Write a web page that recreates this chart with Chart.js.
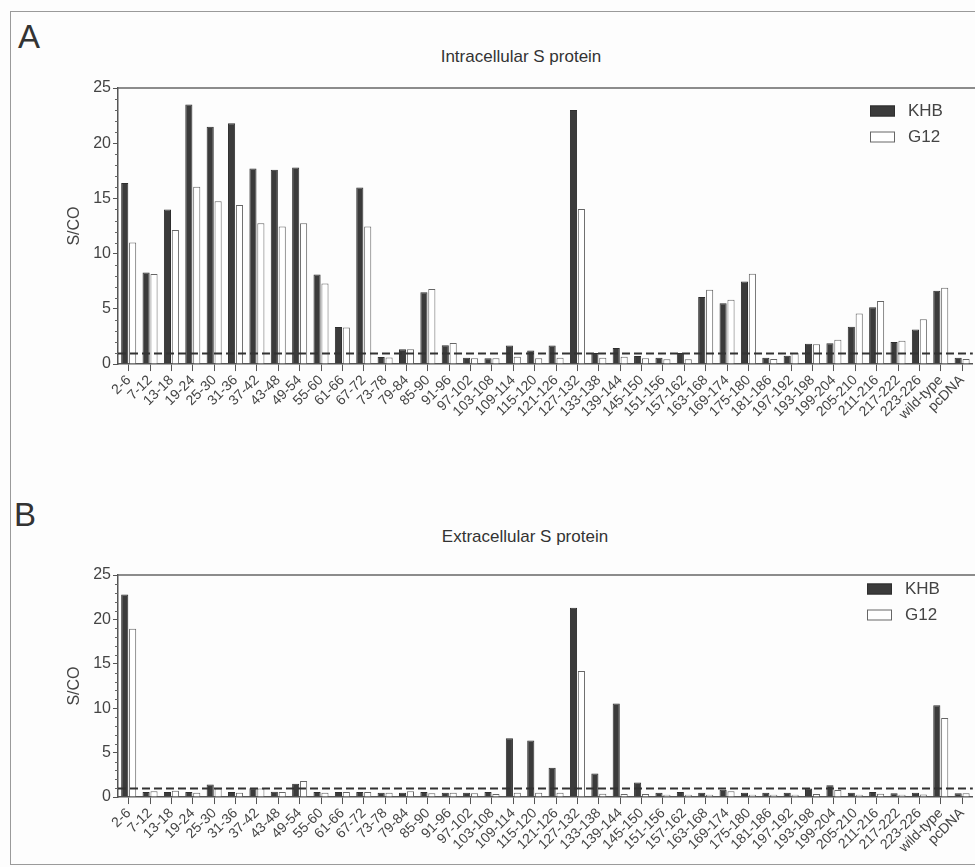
<!DOCTYPE html>
<html>
<head>
<meta charset="utf-8">
<title>S protein S/CO</title>
<script src="https://cdn.jsdelivr.net/npm/chart.js@4/dist/chart.umd.min.js"></script>
<style>
  html, body { margin: 0; padding: 0; background: #fdfdfd; }
  body { width: 975px; height: 867px; position: relative; overflow: hidden; font-family: "Liberation Sans", Arial, sans-serif; color: #3a3a3a; }
  .frame { position: absolute; left: 10px; top: 11px; width: 1000px; height: 854px; border: 1px solid #9a9a9a; box-sizing: border-box; }
  .panel { position: absolute; font-size: 33px; line-height: 1; color: #333; }
  .title { position: absolute; font-size: 17px; line-height: 1; transform: translateX(-50%); white-space: nowrap; color: #333; }
  canvas { position: absolute; left: 0; }
</style>
</head>
<body>
<div class="frame"></div>
<div class="panel" style="left:18px; top:20px;">A</div>
<div class="title" style="left:521px; top:48px;">Intracellular S protein</div>
<div class="panel" style="left:14px; top:498px;">B</div>
<div class="title" style="left:525px; top:528px;">Extracellular S protein</div>
<canvas id="chartA" width="975" height="470" style="top:0px"></canvas>
<canvas id="chartB" width="975" height="397" style="top:470px"></canvas>
<script>
const labels = ["2-6", "7-12", "13-18", "19-24", "25-30", "31-36", "37-42", "43-48", "49-54", "55-60",
    "61-66", "67-72", "73-78", "79-84", "85-90", "91-96", "97-102", "103-108", "109-114", "115-120",
    "121-126", "127-132", "133-138", "139-144", "145-150", "151-156", "157-162", "163-168", "169-174", "175-180",
    "181-186", "197-192", "193-198", "199-204", "205-210", "211-216", "217-222", "223-226", "wild-type", "pcDNA"];

// intracellular S/CO
const intraKHB = [16.4, 8.3, 14.0, 23.5, 21.5, 21.8, 17.7, 17.6, 17.8, 8.1,
    3.35, 16.0, 0.65, 1.35, 6.5, 1.7, 0.58, 0.52, 1.68, 1.22,
    1.68, 23.0, 1.0, 1.46, 0.73, 0.58, 1.0, 6.07, 5.5, 7.47,
    0.58, 0.76, 1.83, 1.89, 3.38, 5.15, 2.0, 3.14, 6.65, 0.58];
const intraG12 = [11.0, 8.15, 12.15, 16.05, 14.75, 14.4, 12.75, 12.45, 12.75, 7.3,
    3.3, 12.45, 0.6, 1.35, 6.8, 1.9, 0.52, 0.52, 0.67, 0.52,
    0.58, 14.05, 0.58, 0.67, 0.52, 0.43, 0.43, 6.74, 5.82, 8.17,
    0.46, 1.0, 1.8, 2.2, 4.57, 5.7, 2.1, 4.05, 6.92, 0.46];

// extracellular S/CO
const extraKHB = [22.8, 0.57, 0.57, 0.57, 1.4, 0.57, 0.98, 0.6, 1.5, 0.57,
    0.57, 0.57, 0.49, 0.49, 0.57, 0.49, 0.49, 0.57, 6.63, 6.36,
    3.3, 21.3, 2.65, 10.53, 1.63, 0.49, 0.57, 0.49, 0.83, 0.49,
    0.49, 0.49, 0.95, 1.33, 0.49, 0.57, 0.42, 0.49, 10.34, 0.42];
const extraG12 = [18.95, 0.64, 0.72, 0.49, 0.95, 0.49, 0.95, 0.57, 1.82, 0.49,
    0.57, 0.57, 0.49, 0.64, 0.42, 0.49, 0.42, 0.34, 0.49, 0.49,
    0.49, 14.2, 0.38, 0.34, 0.34, 0.27, 0.27, 0.27, 0.64, 0.27,
    0.27, 0.27, 0.34, 0.8, 0.27, 0.38, 0.27, 0.3, 8.9, 0.42];

const cutoff = 1;
const yMax = 25;

const FONT = "'Liberation Sans', Arial, sans-serif";
const ink = '#444';

// dashed cut-off line, top border, minor y ticks and the legend box
const decorations = {
    id: 'decorations',
    afterDatasetsDraw(chart, args, opts) {
        const ctx = chart.ctx;
        const area = chart.chartArea;
        const y = chart.scales.y;
        ctx.save();
        ctx.strokeStyle = '#333';
        ctx.lineWidth = 2;
        ctx.setLineDash([8, 4]);
        const yc = Math.round(y.getPixelForValue(cutoff)) + 0.5;
        ctx.beginPath();
        ctx.moveTo(area.left, yc);
        ctx.lineTo(area.right, yc);
        ctx.stroke();
        ctx.restore();
    },
    afterDraw(chart, args, opts) {
        const ctx = chart.ctx;
        const area = chart.chartArea;
        const y = chart.scales.y;
        ctx.save();
        ctx.strokeStyle = '#666';
        ctx.lineWidth = 1.5;
        ctx.beginPath();
        ctx.moveTo(area.left, area.top);
        ctx.lineTo(chart.width, area.top);
        ctx.stroke();

        ctx.lineWidth = 1;
        for (let v = 0; v <= yMax; v++) {
            if (v % 5 === 0) continue;
            const py = Math.round(y.getPixelForValue(v)) + 0.5;
            ctx.beginPath();
            ctx.moveTo(area.left - 3, py);
            ctx.lineTo(area.left, py);
            ctx.stroke();
        }

        ctx.font = '17px ' + FONT;
        ctx.textBaseline = 'middle';
        chart.data.datasets.forEach((ds, i) => {
            const cy = area.top + opts.top + i * opts.gap;
            ctx.fillStyle = ds.backgroundColor;
            ctx.strokeStyle = ds.borderColor;
            ctx.lineWidth = 1;
            ctx.fillRect(opts.x, cy - 5.5, 25, 11);
            ctx.strokeRect(opts.x + 0.5, cy - 5, 24, 10);
            ctx.fillStyle = ink;
            ctx.fillText(ds.label, opts.x + 38, cy);
        });
        ctx.restore();
    }
};

function makeChart(id, khb, g12, padding, legend) {
    return new Chart(document.getElementById(id), {
        type: 'bar',
        data: {
            labels: labels,
            datasets: [
                { label: 'KHB', data: khb, backgroundColor: '#3b3b3b', borderColor: '#2e2e2e', borderWidth: 1 },
                { label: 'G12', data: g12, backgroundColor: '#ffffff', borderColor: '#666666', borderWidth: 1 }
            ]
        },
        options: {
            responsive: false,
            animation: false,
            layout: { padding: padding },
            datasets: { bar: { categoryPercentage: 0.74, barPercentage: 0.9 } },
            plugins: {
                legend: { display: false },
                tooltip: { enabled: false },
                decorations: legend
            },
            scales: {
                x: {
                    grid: { offset: false, drawOnChartArea: false, tickLength: 7, color: '#555' },
                    border: { color: '#555', width: 1.5 },
                    ticks: { autoSkip: false, minRotation: 45, maxRotation: 45, padding: 1, color: ink, font: { family: FONT, size: 14 } }
                },
                y: {
                    min: 0,
                    max: yMax,
                    grid: { drawOnChartArea: false, tickLength: 5, color: '#555' },
                    border: { color: '#555', width: 1.5 },
                    ticks: { stepSize: 5, padding: 2, color: ink, font: { family: FONT, size: 16 } },
                    title: { display: true, text: 'S/CO', color: ink, padding: { top: 0, bottom: 7 }, font: { family: FONT, size: 16 } }
                }
            }
        },
        plugins: [decorations]
    });
}

makeChart('chartA', intraKHB, intraG12, { top: 88, left: 65, right: 0, bottom: 46 }, { x: 870, top: 23, gap: 26 });
makeChart('chartB', extraKHB, extraG12, { top: 105, left: 65, right: 0, bottom: 10 }, { x: 867, top: 14, gap: 26 });
</script>
</body>
</html>
